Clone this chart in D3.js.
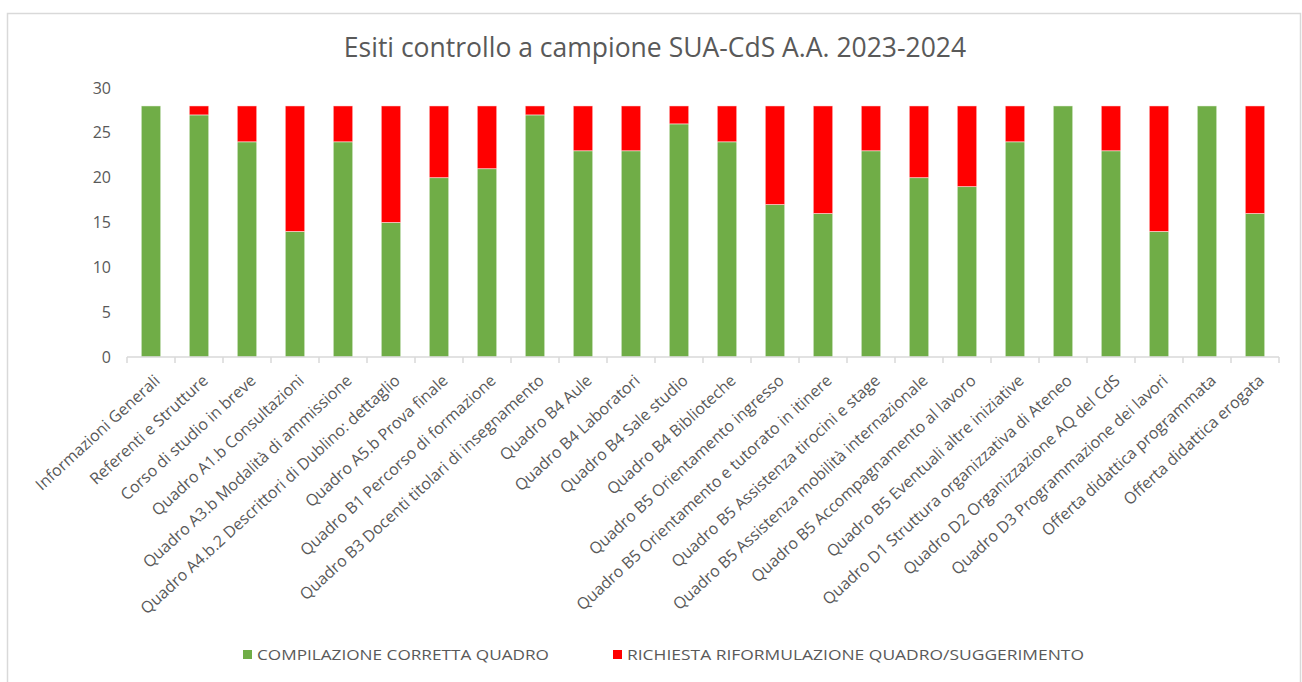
<!DOCTYPE html>
<html lang="it">
<head>
<meta charset="UTF-8">
<title>Esiti controllo a campione SUA-CdS</title>
<script src="https://d3js.org/d3.v7.min.js"></script>
<style>
  body { margin: 0; background: #fff; }
  svg { display: block; }
</style>
</head>
<body>
<script>
// categories (quadri SUA-CdS)
var categories = [
  "Informazioni Generali",
  "Referenti e Strutture",
  "Corso di studio in breve",
  "Quadro A1.b Consultazioni",
  "Quadro A3.b Modalità di ammissione",
  "Quadro A4.b.2 Descrittori di Dublino: dettaglio",
  "Quadro A5.b Prova finale",
  "Quadro B1 Percorso di formazione",
  "Quadro B3 Docenti titolari di insegnamento",
  "Quadro B4 Aule",
  "Quadro B4 Laboratori",
  "Quadro B4 Sale studio",
  "Quadro B4 Biblioteche",
  "Quadro B5 Orientamento ingresso",
  "Quadro B5 Orientamento e tutorato in itinere",
  "Quadro B5 Assistenza tirocini e stage",
  "Quadro B5 Assistenza mobilità internazionale",
  "Quadro B5 Accompagnamento al lavoro",
  "Quadro B5 Eventuali altre iniziative",
  "Quadro D1 Struttura organizzativa di Ateneo",
  "Quadro D2 Organizzazione AQ del CdS",
  "Quadro D3 Programmazione dei lavori",
  "Offerta didattica programmata",
  "Offerta didattica erogata"
];

// COMPILAZIONE CORRETTA QUADRO
var corretta = [28, 27, 24, 14, 24, 15, 20, 21, 27, 23, 23, 26, 24, 17, 16, 23, 20, 19, 24, 28, 23, 14, 28, 16];
// RICHIESTA RIFORMULAZIONE QUADRO/SUGGERIMENTO
var riformulazione = [0, 1, 4, 14, 4, 13, 8, 7, 1, 5, 5, 2, 4, 11, 12, 5, 8, 9, 4, 0, 5, 14, 0, 12];

var seriesNames = ["COMPILAZIONE CORRETTA QUADRO", "RICHIESTA RIFORMULAZIONE QUADRO/SUGGERIMENTO"];
var yTicks = [0, 5, 10, 15, 20, 25, 30];
var title = "Esiti controllo a campione SUA-CdS A.A. 2023-2024";

var w = 1302, h = 682;
var colors = ["#70AD47", "#FF0000"];
var textColor = "#595959";
var font = "'Open Sans', 'Noto Sans', sans-serif";

var margin = { left: 127, right: 23, top: 88, bottom: 325 };

var svg = d3.select("body").append("svg")
  .attr("width", w)
  .attr("height", h);

// chart border
svg.append("rect")
  .attr("x", 7.5).attr("y", 13.5)
  .attr("width", 1293).attr("height", 680)
  .attr("fill", "#fff")
  .attr("stroke", "#D9D9D9")
  .attr("stroke-width", 1.5);

// title
svg.append("text")
  .attr("x", 655).attr("y", 57)
  .attr("text-anchor", "middle")
  .attr("font-family", font)
  .attr("font-size", "26.5px")
  .attr("fill", textColor)
  .text(title);

var x = d3.scaleBand()
  .domain(categories)
  .range([margin.left, w - margin.right])
  .paddingInner(0.595)
  .paddingOuter(0.2975);

var y = d3.scaleLinear()
  .domain([0, 30])
  .range([h - margin.bottom, margin.top]);

// stacked data
var rows = categories.map(function (c, i) {
  return { cat: c, corretta: corretta[i], riformulazione: riformulazione[i] };
});
var stack = d3.stack().keys(["corretta", "riformulazione"]);
var layers = stack(rows);

svg.append("g").selectAll("g")
  .data(layers)
  .enter().append("g")
  .attr("fill", function (d, i) { return colors[i]; })
  .selectAll("rect")
  .data(function (d) { return d; })
  .enter().append("rect")
  .filter(function (d) { return d[1] - d[0] > 0; })
  .attr("x", function (d) { return x(d.data.cat); })
  .attr("y", function (d) { return y(d[1]); })
  .attr("width", x.bandwidth())
  .attr("height", function (d) { return y(d[0]) - y(d[1]); })
  .attr("stroke", "#fff")
  .attr("stroke-opacity", 0.6)
  .attr("stroke-width", 0.8);

// y axis (labels only)
var yAxis = d3.axisLeft(y).tickValues(yTicks).tickSize(0).tickPadding(0);
var gy = svg.append("g")
  .attr("transform", "translate(" + 111 + ",0)")
  .call(yAxis);
gy.select(".domain").remove();
gy.selectAll("text")
  .attr("font-family", font)
  .attr("font-size", "16px")
  .attr("fill", textColor);

// x axis line with ticks between categories
var gx = svg.append("g").attr("transform", "translate(0," + y(0) + ")");
gx.append("line")
  .attr("x1", margin.left).attr("x2", w - margin.right)
  .attr("stroke", "#D9D9D9").attr("stroke-width", 1.5);
var step = x.step();
gx.selectAll("line.tick")
  .data(d3.range(categories.length + 1))
  .enter().append("line")
  .attr("class", "tick")
  .attr("x1", function (i) { return margin.left + i * step; })
  .attr("x2", function (i) { return margin.left + i * step; })
  .attr("y1", 0).attr("y2", 6)
  .attr("stroke", "#D9D9D9").attr("stroke-width", 1.5);

// category labels, rotated
gx.selectAll("text")
  .data(categories)
  .enter().append("text")
  .attr("transform", function (d) {
    var cx = x(d) + x.bandwidth() / 2 + 10;
    return "translate(" + cx + ",25) rotate(-42.5)";
  })
  .attr("text-anchor", "end")
  .attr("font-family", font)
  .attr("font-size", "16px")
  .attr("fill", textColor)
  .text(function (d) { return d; });

// legend
var legend = [
  { name: seriesNames[0], color: colors[0], x: 243, len: 292 },
  { name: seriesNames[1], color: colors[1], x: 613, len: 457 }
];
var lg = svg.append("g").selectAll("g")
  .data(legend)
  .enter().append("g")
  .attr("transform", function (d) { return "translate(" + d.x + ",650)"; });
lg.append("rect")
  .attr("width", 9).attr("height", 9)
  .attr("fill", function (d) { return d.color; });
lg.append("text")
  .attr("x", 14).attr("y", 10)
  .attr("font-family", font)
  .attr("font-size", "14px")
  .attr("fill", textColor)
  .attr("textLength", function (d) { return d.len; })
  .attr("lengthAdjust", "spacingAndGlyphs")
  .text(function (d) { return d.name; });
</script>
</body>
</html>
